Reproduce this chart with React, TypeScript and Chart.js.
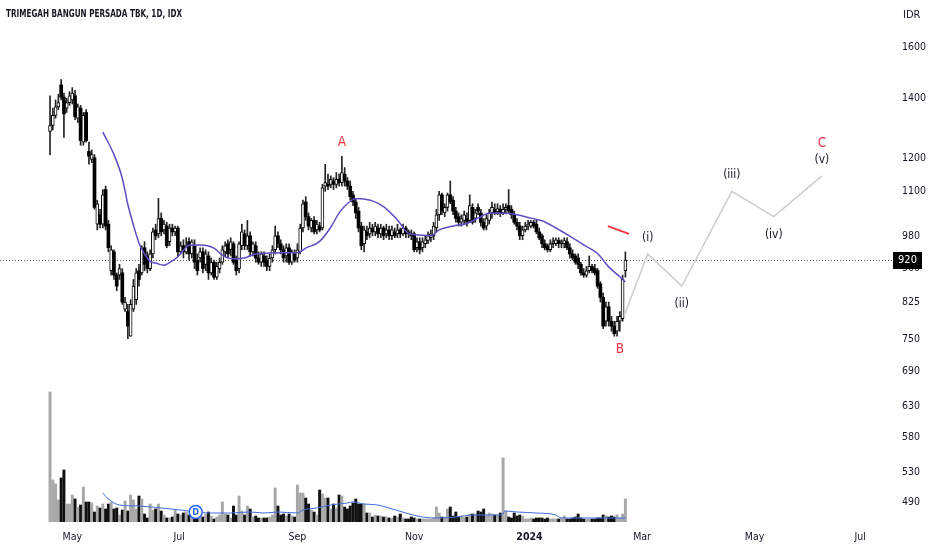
import React, { useEffect, useRef } from 'react';
import { Chart, registerables } from 'chart.js';

Chart.register(...registerables);

const TITLE = 'TRIMEGAH BANGUN PERSADA TBK, 1D, IDX';
const CURRENCY = 'IDR';

const OPEN = [
  1285, 1305, 1340, 1370, 1450, 1405, 1365, 1385, 1395, 1410, 1330, 1365, 1250, 1350, 1220, 1195, 1200, 1010, 1035, 1010,
  1105, 1010, 895, 940, 885, 885, 890, 810, 805, 755, 810, 830, 895, 890, 950, 930, 900, 935, 995, 985,
  1025, 995, 1005, 965, 1000, 990, 1000, 940, 955, 940, 965, 935, 955, 920, 925, 940, 910, 930, 890, 915,
  880, 900, 915, 940, 960, 945, 960, 920, 900, 955, 985, 955, 980, 940, 955, 925, 915, 930, 920, 905,
  925, 945, 980, 960, 945, 930, 950, 915, 935, 925, 940, 1000, 1070, 1030, 1000, 1020, 995, 1005, 1000, 1115,
  1120, 1120, 1130, 1120, 1135, 1125, 1150, 1130, 1115, 1090, 1070, 1045, 1005, 960, 990, 985, 1000, 990, 1000, 985,
  1000, 985, 995, 980, 990, 985, 995, 985, 1000, 990, 985, 985, 950, 965, 950, 960, 968, 975, 980, 1000,
  1035, 1090, 1040, 1055, 1090, 1075, 1045, 1030, 1015, 1020, 1025, 1020, 1055, 1025, 1055, 1040, 1015, 1005, 1020, 1040,
  1050, 1043, 1050, 1040, 1050, 1060, 1050, 1035, 1015, 1005, 980, 995, 1005, 1005, 1015, 1010, 990, 980, 960, 955,
  945, 960, 960, 968, 960, 960, 965, 950, 935, 930, 925, 910, 890, 885, 895, 905, 900, 895, 865, 835,
  785, 815, 785, 775, 765, 785, 790, 895,
];
const HIGH = [
  1410, 1365, 1395, 1415, 1470, 1420, 1400, 1425, 1440, 1430, 1380, 1375, 1350, 1360, 1250, 1225, 1210, 1075, 1050, 1105,
  1115, 1020, 955, 945, 890, 910, 900, 835, 820, 830, 875, 900, 910, 955, 965, 940, 945, 1000, 1010, 1080,
  1040, 1020, 1015, 1010, 1010, 1005, 1005, 965, 970, 975, 975, 970, 970, 935, 950, 950, 945, 940, 925, 920,
  915, 925, 955, 965, 970, 975, 965, 930, 965, 1010, 995, 1020, 990, 965, 965, 940, 940, 940, 930, 935,
  955, 1005, 990, 970, 955, 960, 960, 945, 945, 960, 1010, 1075, 1085, 1040, 1025, 1030, 1020, 1015, 1120, 1180,
  1150, 1145, 1140, 1155, 1150, 1205, 1170, 1140, 1130, 1100, 1080, 1055, 1015, 1005, 1005, 1015, 1010, 1015, 1010, 1010,
  1005, 1010, 1005, 1005, 1000, 1010, 1000, 1010, 1005, 995, 995, 990, 975, 975, 975, 980, 990, 995, 1015, 1050,
  1100, 1095, 1065, 1095, 1130, 1085, 1055, 1040, 1035, 1045, 1040, 1090, 1065, 1050, 1065, 1050, 1025, 1035, 1050, 1070,
  1065, 1065, 1060, 1065, 1065, 1105, 1060, 1045, 1025, 1015, 1005, 1015, 1020, 1020, 1020, 1020, 1000, 985, 970, 960,
  970, 975, 975, 975, 970, 975, 975, 960, 945, 935, 935, 915, 900, 905, 930, 910, 910, 900, 870, 845,
  825, 825, 795, 785, 795, 805, 885, 940,
];
const LOW = [
  1210, 1290, 1330, 1360, 1395, 1265, 1350, 1375, 1380, 1325, 1315, 1240, 1240, 1250, 1180, 1185, 1050, 995, 1000, 1000,
  995, 940, 885, 875, 850, 875, 820, 805, 750, 755, 805, 820, 860, 885, 895, 890, 895, 925, 970, 975,
  980, 985, 950, 955, 980, 980, 930, 935, 925, 935, 920, 925, 900, 885, 915, 890, 895, 875, 885, 875,
  875, 890, 910, 930, 925, 930, 910, 885, 890, 945, 945, 945, 930, 930, 915, 910, 905, 905, 895, 895,
  915, 935, 950, 935, 915, 915, 910, 910, 915, 915, 935, 990, 1020, 995, 990, 985, 985, 990, 995, 1100,
  1105, 1110, 1105, 1110, 1115, 1115, 1115, 1105, 1075, 1060, 1025, 990, 945, 940, 970, 975, 980, 980, 975, 975,
  970, 975, 970, 970, 975, 975, 975, 980, 975, 975, 970, 940, 940, 935, 940, 950, 960, 965, 970, 990,
  1020, 1035, 1030, 1045, 1065, 1035, 1015, 1005, 1005, 1010, 1005, 1015, 1010, 1015, 1035, 1005, 995, 995, 1010, 1025,
  1035, 1035, 1030, 1035, 1040, 1040, 1025, 1010, 995, 970, 970, 990, 995, 1000, 1000, 985, 970, 950, 945, 940,
  940, 950, 955, 950, 950, 950, 945, 925, 920, 910, 900, 885, 880, 880, 890, 890, 885, 855, 825, 770,
  775, 775, 765, 755, 755, 765, 785, 880,
];
const CLOSE = [
  1305, 1340, 1370, 1385, 1405, 1345, 1385, 1410, 1420, 1335, 1370, 1255, 1340, 1255, 1205, 1210, 1055, 1065, 1010, 1090,
  1005, 950, 945, 885, 860, 900, 825, 825, 775, 820, 860, 890, 875, 950, 910, 900, 935, 990, 980, 1025,
  990, 1010, 955, 1000, 990, 1000, 940, 955, 940, 955, 935, 965, 915, 895, 940, 900, 935, 890, 915, 880,
  905, 915, 945, 955, 935, 965, 915, 895, 960, 990, 955, 980, 940, 960, 925, 915, 935, 915, 905, 925,
  945, 980, 960, 945, 925, 950, 915, 940, 920, 945, 1000, 1065, 1030, 1005, 1020, 990, 1010, 995, 1110, 1125,
  1115, 1135, 1120, 1135, 1125, 1155, 1130, 1115, 1085, 1070, 1040, 1000, 955, 995, 980, 1000, 990, 1005, 985, 1000,
  980, 995, 980, 995, 980, 995, 985, 1000, 985, 985, 980, 945, 965, 945, 965, 970, 980, 985, 1005, 1035,
  1090, 1045, 1055, 1090, 1070, 1045, 1025, 1015, 1025, 1035, 1015, 1060, 1015, 1040, 1045, 1015, 1000, 1025, 1040, 1055,
  1040, 1052, 1040, 1050, 1055, 1045, 1035, 1015, 1005, 980, 995, 1005, 1010, 1015, 1005, 990, 975, 960, 950, 945,
  960, 965, 970, 960, 965, 968, 950, 935, 925, 915, 910, 890, 885, 895, 905, 895, 890, 860, 835, 775,
  815, 785, 775, 760, 785, 795, 875, 920,
];
const VOLUME_M = [
  130, 42, 38, 22, 44, 52, 18, 18, 27, 23, 15, 17, 35, 20, 20, 19, 10, 16, 14, 18,
  13, 18, 20, 13, 14, 7, 12, 21, 11, 27, 22, 13, 26, 23, 8, 4, 18, 12, 13, 18,
  11, 7, 4, 4, 5, 12, 8, 7, 9, 10, 7, 5, 4, 4, 5, 5, 8, 10, 6, 3,
  5, 7, 20, 8, 7, 4, 16, 7, 26, 11, 7, 16, 13, 5, 6, 4, 4, 4, 4, 5,
  7, 34, 16, 7, 8, 6, 8, 6, 5, 37, 29, 29, 24, 18, 12, 10, 7, 32, 28, 24,
  24, 13, 18, 14, 27, 26, 15, 13, 16, 19, 23, 18, 18, 18, 9, 9, 5, 7, 6, 6,
  5, 5, 4, 4, 6, 5, 8, 4, 3, 3, 5, 4, 3, 3, 3, 3, 3, 3, 4, 15,
  9, 5, 5, 13, 15, 6, 10, 5, 6, 5, 5, 8, 8, 8, 11, 10, 13, 7, 9, 8,
  7, 7, 9, 64, 11, 5, 4, 9, 6, 7, 6, 3, 3, 4, 3, 4, 4, 4, 3, 4,
  3, 3, 3, 3, 4, 6, 3, 3, 4, 5, 8, 4, 3, 3, 3, 3, 3, 4, 4, 7,
  6, 5, 6, 5, 7, 4, 8, 23,
];

const MA_BARS = [19, 23, 26, 28, 30, 32, 34, 36, 38, 41, 43, 46, 48, 50, 54, 59, 62, 66, 70, 74, 79, 84, 89, 92, 97, 101, 104, 106, 108, 110, 113, 116, 120, 125, 129, 133, 137, 140, 145, 150, 154, 158, 163, 168, 173, 177, 182, 187, 192, 197, 201, 205, 207];
const MA_VALUES = [1283, 1210, 1138, 1063, 1008, 962, 935, 917, 913, 908, 914, 928, 944, 956, 957, 949, 932, 923, 925, 935, 937, 938, 938, 949, 966, 1002, 1040, 1058, 1072, 1080, 1078, 1073, 1057, 1021, 986, 982, 980, 995, 1005, 1012, 1026, 1039, 1039, 1035, 1026, 1019, 1000, 979, 957, 936, 904, 881, 869];

const VOL_MA_BARS = [19, 21, 25, 32, 40, 47, 50, 58, 65, 72, 77, 82, 89, 91, 96, 101, 107, 109, 113, 118, 122, 128, 134, 139, 146, 152, 161, 162.5, 163.7, 168, 175, 182, 184, 192, 199, 207];
const VOL_MA_VALUES = [29, 23, 17, 16, 14, 12, 11, 9, 9, 10, 9, 10, 9, 12, 14, 17, 19, 20, 18, 17, 14, 9, 5, 4, 5, 7, 7, 7, 11, 10, 9, 7, 4, 4, 4, 4];

const MONTH_TICK_BARS = [8, 46.5, 89, 131, 172.5, 213, 253.5, 291.5];
const MONTH_TICK_LABELS = ['May', 'Jul', 'Sep', 'Nov', '2024', 'Mar', 'May', 'Jul'];
const PRICE_TICKS = [1600, 1400, 1200, 1100, 980, 900, 825, 750, 690, 630, 580, 530, 490];

const WAVE_BARS = [206.5, 215, 227.3, 245.3, 260.4, 277.7];
const WAVE_PRICES = [795, 935, 860, 1100, 1030, 1145];
const WAVE_LABELS = ['', '(i)', '(ii)', '(iii)', '(iv)', '(v)'];

const ABC_LABELS = ['A', 'B', 'C'];
const ABC_BARS = [105, 205, 277.7];
const ABC_PRICES = [1205, 755, 1145];

const RED_LINE_BARS = [200.7, 208.3];
const RED_LINE_PRICES = [1005, 985];

const DIVIDEND_BARS = [52.4];

const PRICE_MIN = 466;
const PRICE_MAX = 1808;

const FONT = "'Liberation Sans Narrow', 'DejaVu Sans Condensed', Roboto, sans-serif";
const TEXT = '#131722';

export default function App() {
  const ref = useRef<HTMLCanvasElement>(null);

  useEffect(() => {
    document.body.style.margin = '0';
    const canvas = ref.current;
    if (!canvas) return;
    const n = CLOSE.length;
    const isUp = CLOSE.map((c, i) => c >= OPEN[i]);
    const lastClose = CLOSE[n - 1];

    const overlay = {
      id: 'overlay',
      beforeDatasetsDraw(chart: any) {
        const { ctx, chartArea, scales } = chart;
        const py = Math.round(scales.y.getPixelForValue(lastClose)) + 0.5;
        ctx.save();
        ctx.setLineDash([1, 2]);
        ctx.strokeStyle = '#555';
        ctx.lineWidth = 1;
        ctx.beginPath();
        ctx.moveTo(chartArea.left, py);
        ctx.lineTo(chartArea.right + 3, py);
        ctx.stroke();
        ctx.restore();
      },
      afterDatasetsDraw(chart: any) {
        const { ctx, chartArea, scales } = chart;
        const xs = scales.x;
        const ys = scales.y;
        ctx.save();
        ctx.textAlign = 'center';
        ctx.textBaseline = 'middle';
        ctx.font = `12px ${FONT}`;
        ctx.fillStyle = TEXT;
        WAVE_LABELS.forEach((t, i) => {
          if (!t) return;
          const px = xs.getPixelForValue(WAVE_BARS[i]);
          const py = ys.getPixelForValue(WAVE_PRICES[i]);
          const peak = WAVE_PRICES[i] > WAVE_PRICES[i - 1];
          ctx.fillText(t, px, py + (peak ? -16 : 18));
        });
        const abcOffsets = [-14, 13, -32];
        ctx.font = `13.5px ${FONT}`;
        ctx.fillStyle = '#f23645';
        ABC_LABELS.forEach((t, i) => {
          const px = xs.getPixelForValue(ABC_BARS[i]);
          const py = ys.getPixelForValue(ABC_PRICES[i]);
          ctx.fillText(t, px, py + abcOffsets[i]);
        });
        DIVIDEND_BARS.forEach((b) => {
          const px = xs.getPixelForValue(b);
          const py = chartArea.bottom - 10;
          ctx.beginPath();
          ctx.arc(px, py, 6.5, 0, Math.PI * 2);
          ctx.fillStyle = '#ffffff';
          ctx.fill();
          ctx.lineWidth = 1.5;
          ctx.strokeStyle = '#2962ff';
          ctx.stroke();
          ctx.fillStyle = '#2962ff';
          ctx.font = `bold 9px ${FONT}`;
          ctx.fillText('D', px, py + 0.5);
        });
        ctx.restore();
      },
      afterDraw(chart: any) {
        const { ctx, chartArea, scales } = chart;
        const py = Math.round(scales.y.getPixelForValue(lastClose));
        ctx.save();
        ctx.fillStyle = '#000000';
        ctx.fillRect(chartArea.right + 3, py - 8, 29, 17);
        ctx.fillStyle = '#ffffff';
        ctx.font = `11px ${FONT}`;
        ctx.textAlign = 'center';
        ctx.textBaseline = 'middle';
        ctx.fillText(String(lastClose), chartArea.right + 17.5, py + 0.5);
        ctx.fillStyle = TEXT;
        ctx.textAlign = 'left';
        ctx.font = `11px ${FONT}`;
        ctx.fillText(CURRENCY, chartArea.right + 13, 15);
        ctx.font = `bold 10px ${FONT}`;
        const w = ctx.measureText(TITLE).width;
        ctx.translate(6, 14);
        ctx.scale(176 / w, 1);
        ctx.fillText(TITLE, 0, 0);
        ctx.restore();
      },
    };

    const chart = new Chart(canvas, {
      type: 'bar',
      data: {
        datasets: [
          {
            type: 'line',
            label: 'MA 20',
            data: MA_BARS.map((b, i) => ({ x: b, y: MA_VALUES[i] })),
            borderColor: '#5b4fc4',
            borderWidth: 1.5,
            pointRadius: 0,
            cubicInterpolationMode: 'monotone',
            yAxisID: 'y',
            order: 0,
          } as any,
          {
            type: 'line',
            label: 'Wave',
            data: WAVE_BARS.map((b, i) => ({ x: b, y: WAVE_PRICES[i] })),
            borderColor: '#cdcdcd',
            borderWidth: 1.5,
            pointRadius: 0,
            tension: 0,
            yAxisID: 'y',
            order: 0,
          } as any,
          {
            type: 'line',
            label: 'Mark',
            data: RED_LINE_BARS.map((b, i) => ({ x: b, y: RED_LINE_PRICES[i] })),
            borderColor: '#f23645',
            borderWidth: 2,
            pointRadius: 0,
            yAxisID: 'y',
            order: 0,
          } as any,
          {
            type: 'bar',
            label: 'Body',
            data: CLOSE.map((c, i) => ({ x: i, y: [OPEN[i], c] })),
            backgroundColor: isUp.map((u) => (u ? '#ffffff' : '#000000')),
            borderColor: '#000000',
            borderWidth: isUp.map((u) => (u ? 1 : 0)),
            borderSkipped: false,
            barThickness: 3,
            grouped: false,
            yAxisID: 'y',
            order: 1,
          } as any,
          {
            type: 'bar',
            label: 'Wick',
            data: CLOSE.map((_, i) => ({ x: i, y: [LOW[i], HIGH[i]] })),
            backgroundColor: '#222222',
            borderWidth: 0,
            barThickness: 1,
            grouped: false,
            yAxisID: 'y',
            order: 2,
          } as any,
          {
            type: 'line',
            label: 'Vol MA',
            data: VOL_MA_BARS.map((b, i) => ({ x: b, y: VOL_MA_VALUES[i] })),
            borderColor: '#3d6fe0',
            borderWidth: 1,
            pointRadius: 0,
            cubicInterpolationMode: 'monotone',
            yAxisID: 'yVol',
            order: 3,
          } as any,
          {
            type: 'bar',
            label: 'Volume',
            data: VOLUME_M.map((v, i) => ({ x: i, y: v })),
            backgroundColor: isUp.map((u) => (u ? '#a8a8a8' : '#111111')),
            borderWidth: 0,
            barThickness: 2.3,
            grouped: false,
            yAxisID: 'yVol',
            order: 4,
          } as any,
        ],
      },
      options: {
        responsive: false,
        animation: false,
        layout: { padding: 0 },
        plugins: {
          legend: { display: false },
          tooltip: { enabled: false },
        },
        scales: {
          x: {
            type: 'linear',
            min: -18,
            max: 302.2,
            offset: false,
            grid: { display: false, drawTicks: false, offset: false },
            border: { display: false },
            afterBuildTicks: (s: any) => {
              s.ticks = MONTH_TICK_BARS.map((v) => ({ value: v }));
            },
            afterFit: (s: any) => {
              s.height = 28;
              s.paddingLeft = 0;
              s.paddingRight = 0;
            },
            ticks: {
              autoSkip: false,
              maxRotation: 0,
              padding: 9,
              color: TEXT,
              font: (ctx: any) => {
                const v = ctx.tick ? ctx.tick.value : null;
                const lbl = MONTH_TICK_LABELS[MONTH_TICK_BARS.indexOf(v)];
                return { family: FONT, size: 10.5, weight: lbl === '2024' ? 'bold' : 'normal' };
              },
              callback: (v: any) => MONTH_TICK_LABELS[MONTH_TICK_BARS.indexOf(Number(v))] ?? '',
            },
          },
          y: {
            type: 'logarithmic',
            position: 'right',
            bounds: 'data',
            min: PRICE_MIN,
            max: PRICE_MAX,
            grid: { display: false, drawTicks: false },
            border: { display: false },
            afterBuildTicks: (s: any) => {
              s.ticks = PRICE_TICKS.map((v) => ({ value: v }));
            },
            afterFit: (s: any) => {
              s.width = 42;
              s.paddingTop = 0;
              s.paddingBottom = 0;
            },
            ticks: {
              autoSkip: false,
              padding: 12,
              color: TEXT,
              font: { family: FONT, size: 10.5 },
              callback: (v: any) => String(v),
            },
          },
          yVol: {
            type: 'linear',
            display: false,
            min: 0,
            max: 522,
          },
        },
      } as any,
      plugins: [overlay],
    });

    return () => chart.destroy();
  }, []);

  return <canvas ref={ref} width={932} height={550} style={{ display: 'block' }} />;
}
